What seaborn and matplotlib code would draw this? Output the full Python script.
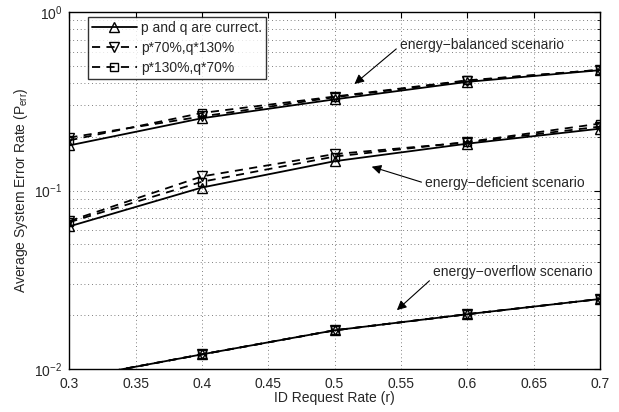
import matplotlib
matplotlib.use('Agg')

import pandas as pd
import matplotlib.pyplot as plt
import seaborn as sns
import numpy as np

rate = [0.3, 0.4, 0.5, 0.6, 0.7]

# energy-balanced scenario
bal_exact = [0.179, 0.254, 0.324, 0.406, 0.472]
bal_p70 = [0.198, 0.260, 0.333, 0.412, 0.474]
bal_p130 = [0.191, 0.272, 0.336, 0.414, 0.474]

# energy-deficient scenario
def_exact = [0.0630, 0.104, 0.146, 0.183, 0.222]
def_p70 = [0.0675, 0.120, 0.160, 0.186, 0.228]
def_p130 = [0.0665, 0.112, 0.155, 0.187, 0.237]

# energy-overflow scenario
ovf_exact = [0.0088, 0.0121, 0.0165, 0.0203, 0.0247]
ovf_p70 = [0.0088, 0.0121, 0.0165, 0.0203, 0.0247]
ovf_p130 = [0.0088, 0.0121, 0.0165, 0.0203, 0.0247]

labels = ['p and q are currect.', 'p*70%,q*130%', 'p*130%,q*70%']

sns.set_style('white')
plt.rcParams['font.family'] = ['Liberation Sans', 'DejaVu Sans']
plt.rcParams['mathtext.fontset'] = 'custom'
plt.rcParams['mathtext.rm'] = 'Liberation Sans'
plt.rcParams['mathtext.it'] = 'Liberation Sans:italic'

fs = 10

fig, ax = plt.subplots(figsize=(6.19, 4.12), dpi=100)
fig.subplots_adjust(left=0.112, right=0.969, top=0.971, bottom=0.104)

groups = [
    (bal_exact, bal_p70, bal_p130),
    (def_exact, def_p70, def_p130),
    (ovf_exact, ovf_p70, ovf_p130),
]
styles = [('-', '^'), ((0, (4.5, 3.5)), 'v'), ((0, (4.5, 3.5)), 's')]

handles = []
for g in groups:
    for k, vals in enumerate(g):
        ls, mk = styles[k]
        sns.lineplot(x=rate, y=vals, ax=ax, color='black', linewidth=1.3,
                     linestyle=ls, marker=mk, markersize=7 if mk != 's' else 6,
                     markerfacecolor='none', markeredgecolor='black',
                     markeredgewidth=1.0)
        if g is groups[0]:
            handles.append(ax.lines[-1])

ax.set_yscale('log')
ax.set_xlim(0.3, 0.7)
ax.set_ylim(0.01, 1)
ax.set_xticks(np.arange(0.3, 0.701, 0.05))
ax.set_xticklabels(['0.3', '0.35', '0.4', '0.45', '0.5', '0.55', '0.6', '0.65', '0.7'])

ax.grid(True, which='major', linestyle=(0, (1, 3.5)), color='#555555', linewidth=0.6)
ax.grid(True, which='minor', axis='y', linestyle=(0, (1, 3.5)), color='#555555', linewidth=0.6)
ax.tick_params(which='both', direction='in', top=True, right=True, labelsize=fs, color='black')
ax.tick_params(which='major', length=4)
ax.tick_params(which='minor', length=2)
ax.tick_params(axis='x', pad=6)
ax.tick_params(axis='y', pad=5)
for s in ax.spines.values():
    s.set_color('black')
    s.set_linewidth(1.0)

ax.set_xlabel('ID Request Rate (r)', fontsize=fs, labelpad=0)
ax.set_ylabel('Average System Error Rate (P$_{\\mathrm{err}}$)', fontsize=fs, labelpad=3)

leg = ax.legend(handles, labels, loc='upper left', bbox_to_anchor=(0.03, 0.995),
                handlelength=3.2, fontsize=fs, frameon=True, fancybox=False,
                borderpad=0.3, labelspacing=0.45, handletextpad=0.3, borderaxespad=0.2)
leg.get_frame().set_edgecolor('black')
leg.get_frame().set_linewidth(1.0)

def arrow(rp):
    return dict(arrowstyle='-|>', color='black', linewidth=0.8, mutation_scale=14,
                shrinkA=0, shrinkB=0, relpos=rp)

ax.annotate('energy\u2212balanced scenario', xy=(0.515, 0.395), xytext=(0.549, 0.655),
            fontsize=fs, va='center', ha='left', arrowprops=arrow((0, 0.4)))
ax.annotate('energy\u2212deficient scenario', xy=(0.528, 0.136), xytext=(0.568, 0.110),
            fontsize=fs, va='center', ha='left', arrowprops=arrow((0, 0.5)))
ax.annotate('energy\u2212overflow scenario', xy=(0.547, 0.0214), xytext=(0.574, 0.0349),
            fontsize=fs, va='center', ha='left', arrowprops=arrow((0, 0.1)))

fig.savefig('out.png', dpi=100)
